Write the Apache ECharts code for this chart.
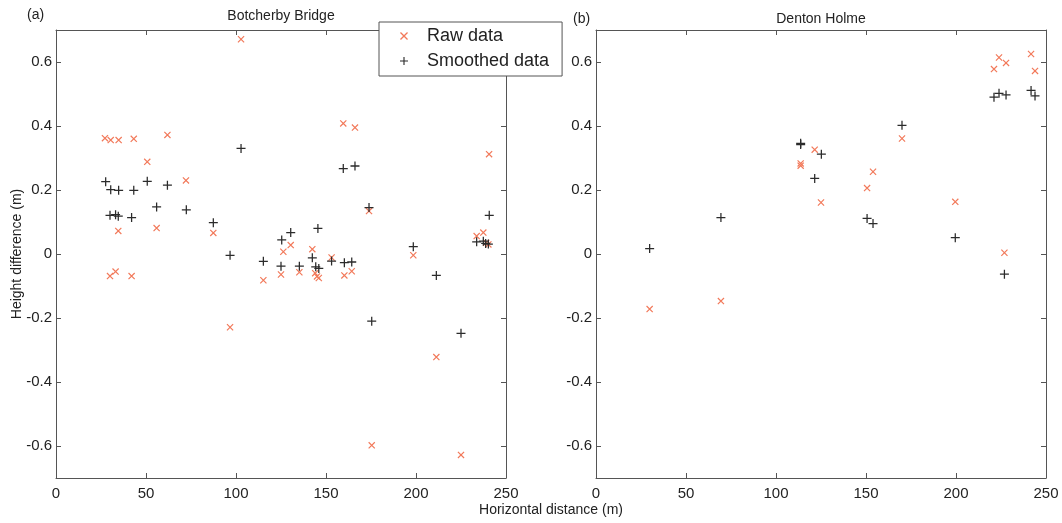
<!DOCTYPE html>
<html>
<head>
<meta charset="utf-8">
<script src="https://cdn.jsdelivr.net/npm/echarts@6/dist/echarts.min.js"></script>
<style>
html,body{margin:0;padding:0;background:#fff;}
#chart{width:1062px;height:523px;}
</style>
</head>
<body>
<div id="chart"></div>
<script>
// ---- data ----
const panelTitles = ['Botcherby Bridge', 'Denton Holme'];
const panelTags = ['(a)', '(b)'];
const seriesNames = ['Raw data', 'Smoothed data'];
const xTicks = [0, 50, 100, 150, 200, 250];
const yTicks = [-0.6, -0.4, -0.2, 0, 0.2, 0.4, 0.6];

const leftRawX = [27.2, 30.4, 34.8, 43.2, 50.7, 61.9, 72.2, 34.6, 55.9, 87.4, 30, 33.1, 42, 96.7, 102.8, 115.2, 126.3, 130.4, 125, 135.2, 142.4, 144, 145, 146, 153.1, 160.2, 164.3, 159.6, 166.1, 173.9, 175.4, 198.5, 211.3, 225, 233.7, 237.4, 239, 240.2, 240.6];
const leftRawY = [0.362, 0.356, 0.356, 0.36, 0.288, 0.372, 0.230, 0.072, 0.081, 0.066, -0.069, -0.055, -0.069, -0.229, 0.671, -0.082, 0.007, 0.028, -0.064, -0.057, 0.015, -0.06, -0.07, -0.075, -0.011, -0.067, -0.054, 0.408, 0.395, 0.134, -0.598, -0.004, -0.322, -0.628, 0.056, 0.067, 0.035, 0.03, 0.312];
const leftSmoothX = [27.6, 30.4, 34.8, 43.2, 50.7, 61.9, 30, 33.1, 34.6, 42, 55.9, 72.4, 87.4, 96.7, 102.8, 115.2, 125.4, 130.4, 125, 135.2, 145.5, 142.4, 144.3, 146, 153.1, 160.2, 164.3, 159.6, 166.1, 173.9, 175.4, 198.5, 211.3, 225, 233.7, 237.4, 238.7, 240.2, 240.7];
const leftSmoothY = [0.226, 0.201, 0.199, 0.199, 0.227, 0.215, 0.121, 0.123, 0.118, 0.114, 0.147, 0.138, 0.098, -0.004, 0.330, -0.023, 0.044, 0.067, -0.038, -0.038, 0.080, -0.012, -0.040, -0.045, -0.022, -0.027, -0.025, 0.267, 0.275, 0.145, -0.210, 0.023, -0.067, -0.248, 0.038, 0.040, 0.033, 0.031, 0.121];

const rightRawX = [29.8, 69.4, 113.7, 113.7, 121.5, 125.0, 150.6, 153.9, 170.0, 199.6, 221.1, 223.9, 226.9, 227.8, 241.7, 243.9];
const rightRawY = [-0.172, -0.147, 0.283, 0.276, 0.326, 0.161, 0.206, 0.257, 0.361, 0.163, 0.578, 0.614, 0.004, 0.597, 0.625, 0.572];
const rightSmoothX = [29.8, 69.4, 113.7, 113.7, 121.5, 125.2, 150.6, 153.9, 170.0, 199.6, 221.1, 223.9, 226.9, 227.8, 241.7, 243.9];
const rightSmoothY = [0.017, 0.114, 0.346, 0.342, 0.236, 0.312, 0.111, 0.095, 0.402, 0.051, 0.490, 0.502, -0.063, 0.497, 0.511, 0.494];

// ---- styling ----
const FONT = '"Liberation Sans", Arial, sans-serif';
const RED = '#f2795a';
const BLACK = '#2b2b2b';
const AXIS = '#555555';
const X_PATH = 'path://M0,1.2L1.2,0L10,8.8L8.8,10Z M8.8,0L10,1.2L1.2,10L0,8.8Z';
const PLUS_PATH = 'path://M4.3,0H5.7V4.3H10V5.7H5.7V10H4.3V5.7H0V4.3H4.3Z';

function zip(xs, ys) { return xs.map((x, i) => [x, ys[i]]); }

const grids = [
  { left: 56, right: 556, top: 30, bottom: 45 },
  { left: 596, right: 16, top: 30, bottom: 45 }
];

const xAxes = [], yAxes = [];
grids.forEach((g, gi) => {
  xAxes.push({
    type: 'value', gridIndex: gi, position: 'bottom', min: 0, max: 250, interval: 50,
    axisLine: { show: true, onZero: false, lineStyle: { color: AXIS, width: 1 } },
    axisTick: { show: true, inside: true, length: 5, lineStyle: { color: AXIS } },
    axisLabel: { show: true, margin: 8, color: '#222', fontFamily: FONT, fontSize: 15,
      formatter: v => String(v) },
    splitLine: { show: false }
  });
  xAxes.push({
    type: 'value', gridIndex: gi, position: 'top', min: 0, max: 250, interval: 50,
    axisLine: { show: true, onZero: false, lineStyle: { color: AXIS, width: 1 } },
    axisTick: { show: true, inside: true, length: 5, lineStyle: { color: AXIS } },
    axisLabel: { show: false }, splitLine: { show: false }
  });
  yAxes.push({
    type: 'value', gridIndex: gi, position: 'left', min: -0.7, max: 0.7,
    axisLine: { show: true, onZero: false, lineStyle: { color: AXIS, width: 1 } },
    axisTick: { show: true, inside: true, length: 5, customValues: yTicks, lineStyle: { color: AXIS } },
    axisLabel: { show: true, margin: 4, customValues: yTicks, color: '#222', fontFamily: FONT, fontSize: 15,
      formatter: v => (Math.abs(v) < 1e-9 ? '0' : Number(v).toFixed(1)) },
    splitLine: { show: false }
  });
  yAxes.push({
    type: 'value', gridIndex: gi, position: 'right', min: -0.7, max: 0.7,
    axisLine: { show: true, onZero: false, lineStyle: { color: AXIS, width: 1 } },
    axisTick: { show: true, inside: true, length: 5, customValues: yTicks, lineStyle: { color: AXIS } },
    axisLabel: { show: false }, splitLine: { show: false }
  });
});

function scatter(name, data, gi, isRaw) {
  return {
    type: 'scatter', name: name, xAxisIndex: gi * 2, yAxisIndex: gi * 2,
    data: data,
    symbol: isRaw ? X_PATH : PLUS_PATH,
    symbolSize: isRaw ? 7 : 9,
    itemStyle: { color: isRaw ? RED : BLACK, opacity: 1 },
    emphasis: { disabled: true },
    z: isRaw ? 3 : 4
  };
}

const option = {
  backgroundColor: '#fff',
  animation: false,
  grid: grids,
  xAxis: xAxes,
  yAxis: yAxes,
  legend: {
    orient: 'vertical',
    left: 379, top: 22,
    data: [
      { name: seriesNames[0], icon: X_PATH },
      { name: seriesNames[1], icon: PLUS_PATH }
    ],
    itemWidth: 8, itemHeight: 8, itemGap: 7,
    padding: [5, 13, 6, 21],
    backgroundColor: '#fff',
    borderColor: AXIS, borderWidth: 1,
    selectedMode: false,
    textStyle: { fontFamily: FONT, fontSize: 18, color: '#222', padding: [0, 0, 0, 14] },
    z: 10
  },
  series: [
    scatter(seriesNames[0], zip(leftRawX, leftRawY), 0, true),
    scatter(seriesNames[1], zip(leftSmoothX, leftSmoothY), 0, false),
    scatter(seriesNames[0], zip(rightRawX, rightRawY), 1, true),
    scatter(seriesNames[1], zip(rightSmoothX, rightSmoothY), 1, false)
  ],
  graphic: [
    { type: 'text', x: 281, y: 16, style: { text: panelTitles[0], fontFamily: FONT, fontSize: 14, fill: '#222', align: 'center', verticalAlign: 'middle' } },
    { type: 'text', x: 821, y: 19, style: { text: panelTitles[1], fontFamily: FONT, fontSize: 14, fill: '#222', align: 'center', verticalAlign: 'middle' } },
    { type: 'text', x: 27, y: 15, style: { text: panelTags[0], fontFamily: FONT, fontSize: 14, fill: '#222', align: 'left', verticalAlign: 'middle' } },
    { type: 'text', x: 573, y: 19, style: { text: panelTags[1], fontFamily: FONT, fontSize: 14, fill: '#222', align: 'left', verticalAlign: 'middle' } },
    { type: 'text', x: 551, y: 510, style: { text: 'Horizontal distance (m)', fontFamily: FONT, fontSize: 14, fill: '#222', align: 'center', verticalAlign: 'middle' } },
    { type: 'text', x: 17, y: 254, rotation: Math.PI / 2, style: { text: 'Height difference (m)', fontFamily: FONT, fontSize: 14, fill: '#222', align: 'center', verticalAlign: 'middle' } }
  ]
};

const chart = echarts.init(document.getElementById('chart'), null, { renderer: 'canvas' });
chart.setOption(option);
</script>
</body>
</html>
